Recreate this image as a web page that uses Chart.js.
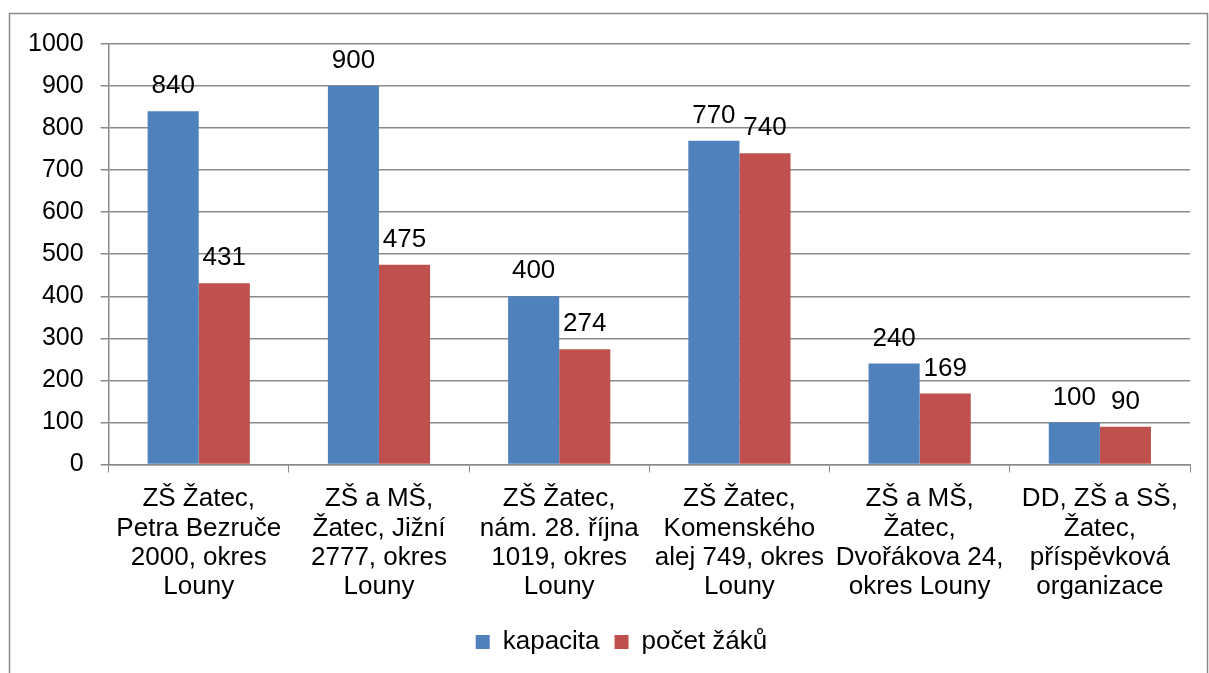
<!DOCTYPE html>
<html>
<head>
<meta charset="utf-8">
<script src="https://cdn.jsdelivr.net/npm/chart.js@4/dist/chart.umd.min.js"></script>
<style>
html,body{margin:0;padding:0;background:#fff;}
#wrap{position:absolute;left:0;top:0;width:1209px;height:673px;}
</style>
</head>
<body>
<div id="wrap"><canvas id="c" width="1209" height="673"></canvas></div>
<script>
const categories = [
  ["ZŠ Žatec,", "Petra Bezruče", "2000, okres", "Louny"],
  ["ZŠ a MŠ,", "Žatec, Jižní", "2777, okres", "Louny"],
  ["ZŠ Žatec,", "nám. 28. října", "1019, okres", "Louny"],
  ["ZŠ Žatec,", "Komenského", "alej 749, okres", "Louny"],
  ["ZŠ a MŠ,", "Žatec,", "Dvořákova 24,", "okres Louny"],
  ["DD, ZŠ a SŠ,", "Žatec,", "příspěvková", "organizace"]
];
const seriesNames = ["kapacita", "počet žáků"];
const kapacita = [840, 900, 400, 770, 240, 100];
const pocetZaku = [431, 475, 274, 740, 169, 90];
const yTicks = [0, 100, 200, 300, 400, 500, 600, 700, 800, 900, 1000];

const FONT = "'Liberation Sans', Arial, sans-serif";
const FS = 26;
const FSY = 25;
const GRID = '#8a8a8a';

const framePlugin = {
  id: 'frame',
  beforeDraw(chart) {
    const ctx = chart.ctx;
    ctx.save();
    ctx.fillStyle = '#fff';
    ctx.fillRect(0, 0, chart.width, chart.height);
    ctx.strokeStyle = '#8a8a8a';
    ctx.lineWidth = 1.5;
    ctx.strokeRect(9.5, 13.5, 1198, 700);
    ctx.restore();
  }
};

const legendShift = {
  id: 'legendShift',
  afterLayout(chart) {
    const l = chart.legend;
    if (l) { l.left += 21; l.right += 21; }
  }
};

const labelPlugin = {
  id: 'valueLabels',
  afterDatasetsDraw(chart) {
    const ctx = chart.ctx;
    ctx.save();
    ctx.font = FS + 'px ' + FONT;
    ctx.fillStyle = '#000';
    ctx.textAlign = 'center';
    ctx.textBaseline = 'middle';
    chart.data.datasets.forEach((ds, i) => {
      const meta = chart.getDatasetMeta(i);
      meta.data.forEach((el, j) => {
        ctx.fillText(String(ds.data[j]), el.x, el.y - 25);
      });
    });
    ctx.restore();
  }
};

new Chart(document.getElementById('c'), {
  type: 'bar',
  data: {
    labels: categories,
    datasets: [
      { label: seriesNames[0], data: kapacita, backgroundColor: '#4F81BD' },
      { label: seriesNames[1], data: pocetZaku, backgroundColor: '#C0504D' }
    ]
  },
  options: {
    responsive: false,
    animation: false,
    devicePixelRatio: 1,
    layout: { padding: { left: 11, right: 19, top: 44, bottom: 8 } },
    datasets: { bar: { categoryPercentage: 0.567, barPercentage: 1.0 } },
    plugins: {
      legend: {
        position: 'bottom',
        labels: {
          font: { family: FONT, size: FS },
          color: '#000',
          boxWidth: 14,
          boxHeight: 14,
          padding: 15
        }
      },
      tooltip: { enabled: false }
    },
    scales: {
      x: {
        grid: { offset: true, drawOnChartArea: false, color: GRID, tickLength: 8 },
        border: { color: GRID, width: 1.5 },
        ticks: { font: { family: FONT, size: FS, lineHeight: 1.13 }, color: '#000', padding: 12, maxRotation: 0, autoSkip: false }
      },
      y: {
        min: 0, max: 1000,
        afterBuildTicks(scale) { scale.ticks = yTicks.map(v => ({ value: v })); },
        grid: { color: GRID, lineWidth: 1.5, tickLength: 8 },
        border: { color: GRID, width: 1.5 },
        ticks: { font: { family: FONT, size: FSY }, color: '#000', padding: 17, callback: v => String(v) }
      }
    }
  },
  plugins: [framePlugin, legendShift, labelPlugin]
});
</script>
</body>
</html>
